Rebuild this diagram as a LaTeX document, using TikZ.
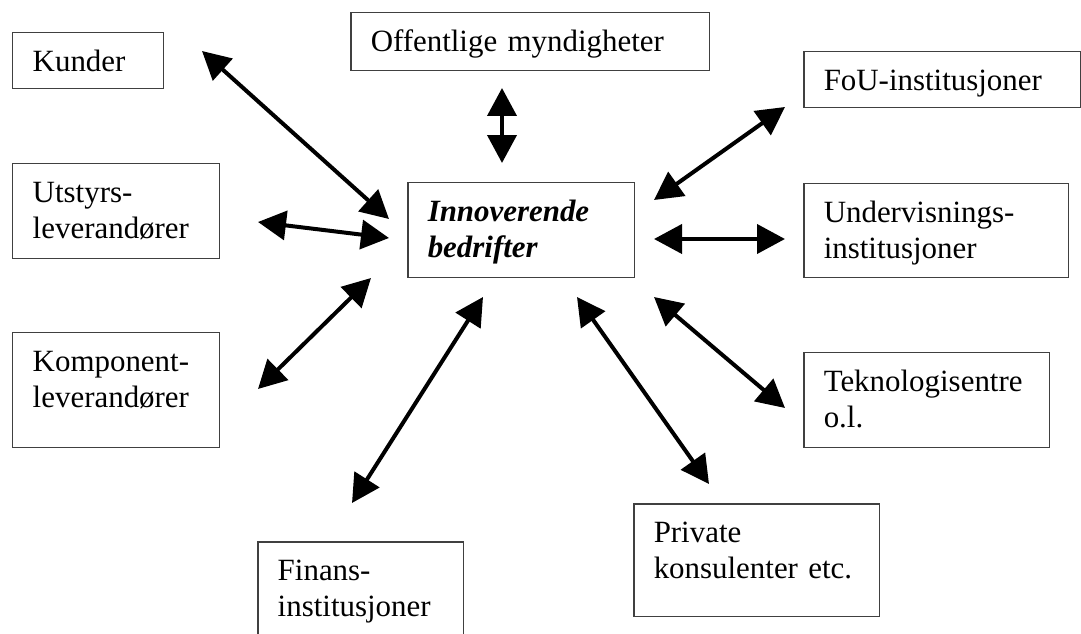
\documentclass[tikz,border=0pt]{standalone}
\usepackage{fontspec}
\setmainfont{Liberation Serif}
\usetikzlibrary{arrows.meta}

\begin{document}
\begin{tikzpicture}[x=0.02cm, y=-0.02cm,
  >={Triangle[length=0.56cm, width=0.58cm]},
  box/.style={draw=black!75, line width=0.03cm, anchor=north west,
    inner sep=0pt, align=left, text width=#1, text height=0.78cm,
    font=\fontsize{17.6}{20.4}\selectfont,
    execute at begin node={\leftskip=0.4cm\hyphenpenalty=10000}},
  link/.style={<->, line width=0.08cm}]

\useasboundingbox (0,0) rectangle (1081,634);

% define the boxes
  \node[box=3.02cm, text depth=0.34cm] (kunder) at (12,32) {Kunder};
  \node[box=7.18cm, text depth=0.38cm] (offentlig) at (350,12) {Offentlige myndigheter};
  \node[box=5.54cm, text depth=0.34cm] (fou) at (803,51) {FoU-institusjoner};
  \node[box=4.14cm, text depth=1.12cm] (utstyr) at (12,163) {Utstyrs-\\leverandører};
  \node[box=4.54cm, text depth=1.12cm, font=\fontsize{17.6}{20.4}\selectfont\bfseries\itshape]
    (bedrift) at (407,182) {Innoverende\\bedrifter};
  \node[box=5.30cm, text depth=1.10cm] (underv) at (803,183) {Undervisnings-\\institusjoner};
  \node[box=4.14cm, text depth=1.52cm] (komp) at (12,332) {Komponent-\\leverandører};
  \node[box=4.92cm, text depth=1.12cm] (tekno) at (803,352) {Teknologisentre\\o.l.};
  \node[box=4.92cm, text depth=1.48cm] (privat) at (633,503) {Private\\konsulenter etc.};
  \node[box=4.12cm, text depth=1.32cm] (finans) at (257,541) {Finans-\\institusjoner};

% define the arrow ends
  \coordinate (kunder-a) at (202,51);    \coordinate (kunder-b) at (389,219);
  \coordinate (offentlig-a) at (502,88); \coordinate (offentlig-b) at (502,163);
  \coordinate (fou-a) at (785,107);      \coordinate (fou-b) at (654,200);
  \coordinate (utstyr-a) at (258,222);   \coordinate (utstyr-b) at (389,238);
  \coordinate (underv-a) at (785,239);   \coordinate (underv-b) at (654,239);
  \coordinate (komp-a) at (258,389);     \coordinate (komp-b) at (371,278);
  \coordinate (tekno-a) at (785,408);    \coordinate (tekno-b) at (654,297);
  \coordinate (finans-a) at (352,503);   \coordinate (finans-b) at (483,297);
  \coordinate (privat-a) at (709,484);   \coordinate (privat-b) at (577,297);

% define the links
  \path[link] (kunder-a) edge (kunder-b)
              (offentlig-a) edge (offentlig-b)
              (fou-a) edge (fou-b)
              (utstyr-a) edge (utstyr-b)
              (underv-a) edge (underv-b)
              (komp-a) edge (komp-b)
              (tekno-a) edge (tekno-b)
              (finans-a) edge (finans-b)
              (privat-a) edge (privat-b);

\end{tikzpicture}
\end{document}
